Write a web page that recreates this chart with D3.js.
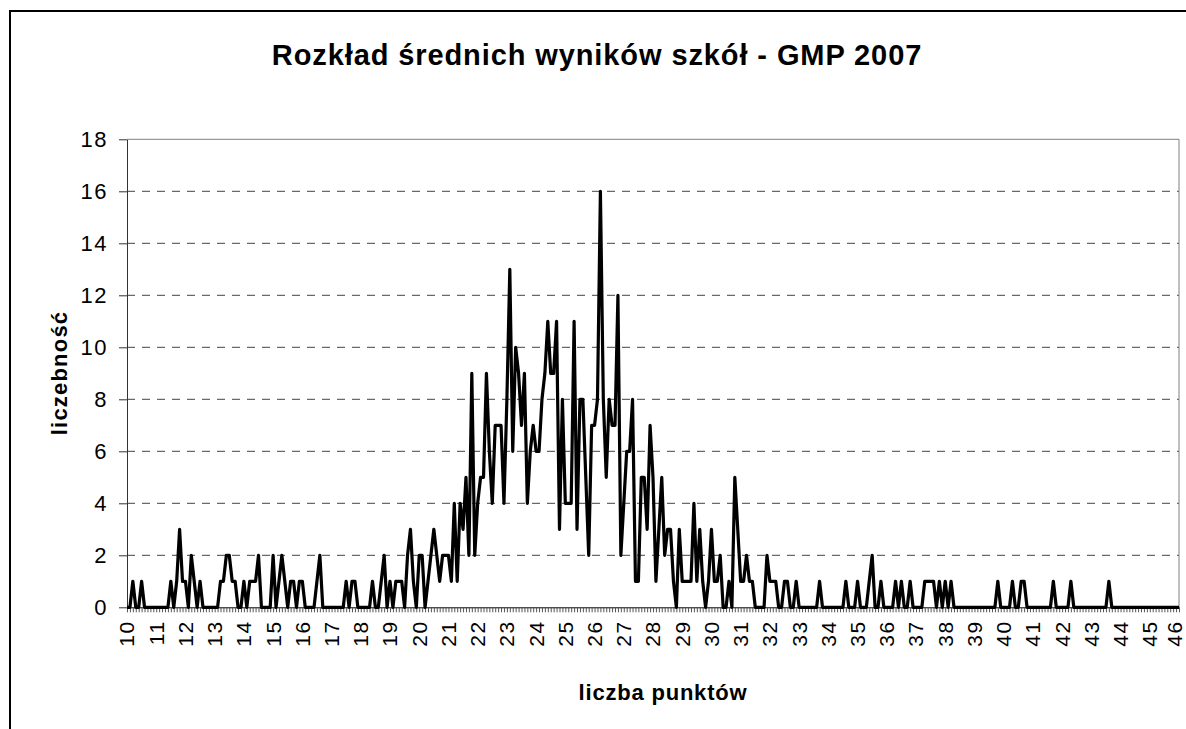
<!DOCTYPE html>
<html>
<head>
<meta charset="utf-8">
<script src="https://cdn.jsdelivr.net/npm/d3@7"></script>
<style>
  html, body { margin: 0; padding: 0; background: #fff; }
  svg { display: block; font-family: "Liberation Sans", Arial, sans-serif; }
</style>
</head>
<body>
<svg id="chart" width="1186" height="729"></svg>
<script>
"use strict";

var title = 'Rozkład średnich wyników szkół - GMP 2007';
var x_title = 'liczba punktów';
var y_title = 'liczebność';

// categories: school averages 10.0 .. 46.0, step 0.1
var categories = d3.range(0, 361).map(function (i) { return +(10 + i / 10).toFixed(1); });

// number of schools per category, one row per whole point (x.0 .. x.9)
var counts = [
  0, 0, 1, 0, 0, 1, 0, 0, 0, 0,      // 10
  0, 0, 0, 0, 0, 1, 0, 1, 3, 1,      // 11
  1, 0, 2, 1, 0, 1, 0, 0, 0, 0,      // 12
  0, 0, 1, 1, 2, 2, 1, 1, 0, 0,      // 13
  1, 0, 1, 1, 1, 2, 0, 0, 0, 0,      // 14
  2, 0, 1, 2, 1, 0, 1, 1, 0, 1,      // 15
  1, 0, 0, 0, 0, 1, 2, 0, 0, 0,      // 16
  0, 0, 0, 0, 0, 1, 0, 1, 1, 0,      // 17
  0, 0, 0, 0, 1, 0, 0, 1, 2, 0,      // 18
  1, 0, 1, 1, 1, 0, 2, 3, 1, 0,      // 19
  2, 2, 0, 1, 2, 3, 2, 1, 2, 2,      // 20
  2, 1, 4, 1, 4, 3, 5, 2, 9, 2,      // 21
  4, 5, 5, 9, 6, 4, 7, 7, 7, 4,      // 22
  8, 13, 6, 10, 9, 7, 9, 4, 6, 7,    // 23
  6, 6, 8, 9, 11, 9, 9, 11, 3, 8,    // 24
  4, 4, 4, 11, 3, 8, 8, 5, 2, 7,     // 25
  7, 8, 16, 8, 5, 8, 7, 7, 12, 2,    // 26
  4, 6, 6, 8, 1, 1, 5, 5, 3, 7,      // 27
  5, 1, 3, 5, 2, 3, 3, 1, 0, 3,      // 28
  1, 1, 1, 1, 4, 1, 3, 1, 0, 1,      // 29
  3, 1, 1, 2, 0, 0, 1, 0, 5, 3,      // 30
  1, 1, 2, 1, 1, 0, 0, 0, 0, 2,      // 31
  1, 1, 1, 0, 0, 1, 1, 0, 0, 1,      // 32
  0, 0, 0, 0, 0, 0, 0, 1, 0, 0,      // 33
  0, 0, 0, 0, 0, 0, 1, 0, 0, 0,      // 34
  1, 0, 0, 0, 1, 2, 0, 0, 1, 0,      // 35
  0, 0, 0, 1, 0, 1, 0, 0, 1, 0,      // 36
  0, 0, 0, 1, 1, 1, 1, 0, 1, 0,      // 37
  1, 0, 1, 0, 0, 0, 0, 0, 0, 0,      // 38
  0, 0, 0, 0, 0, 0, 0, 0, 1, 0,      // 39
  0, 0, 0, 1, 0, 0, 1, 1, 0, 0,      // 40
  0, 0, 0, 0, 0, 0, 0, 1, 0, 0,      // 41
  0, 0, 0, 1, 0, 0, 0, 0, 0, 0,      // 42
  0, 0, 0, 0, 0, 0, 1, 0, 0, 0,      // 43
  0, 0, 0, 0, 0, 0, 0, 0, 0, 0,      // 44
  0, 0, 0, 0, 0, 0, 0, 0, 0, 0,      // 45
  0                                  // 46
];

var y_ticks = [0, 2, 4, 6, 8, 10, 12, 14, 16, 18];
var x_labels = [10, 11, 12, 13, 14, 15, 16, 17, 18, 19, 20, 21, 22, 23, 24, 25, 26, 27,
  28, 29, 30, 31, 32, 33, 34, 35, 36, 37, 38, 39, 40, 41, 42, 43, 44, 45, 46];

function draw_chart() {
  var svg = d3.select('#chart');
  var data = categories.map(function (c, i) { return { cat: c, n: counts[i] }; });

  var left = 127, right = 1179, top = 139.3, bottom = 607.3;

  // outer chart frame (runs off the picture on the right and bottom)
  svg.append('rect')
    .attr('x', 10).attr('y', 11)
    .attr('width', 1300).attr('height', 900)
    .attr('fill', 'none')
    .attr('stroke', '#000')
    .attr('stroke-width', 2);

  var xscale = d3.scalePoint().domain(categories).range([left, right]);
  var yscale = d3.scaleLinear().domain([0, 18]).range([bottom, top]);

  // dashed grid lines
  svg.append('g')
    .selectAll('line')
    .data(y_ticks.filter(function (v) { return v > 0 && v < 18; }))
    .enter().append('line')
    .attr('x1', left).attr('x2', right)
    .attr('y1', function (d) { return yscale(d); })
    .attr('y2', function (d) { return yscale(d); })
    .attr('stroke', '#444')
    .attr('stroke-width', 1)
    .attr('stroke-dasharray', '8,7');

  // plot area border top/right
  svg.append('path')
    .attr('d', 'M' + left + ',' + yscale(18) + 'H' + right + 'V' + bottom)
    .attr('fill', 'none')
    .attr('stroke', '#808080')
    .attr('stroke-width', 1);

  // y axis
  var yaxis = d3.axisLeft(yscale)
    .tickValues(y_ticks)
    .tickSize(8)
    .tickPadding(11)
    .tickSizeOuter(0);
  var yg = svg.append('g')
    .attr('transform', 'translate(' + left + ',0)')
    .call(yaxis);
  yg.select('.domain').attr('stroke', '#333');
  yg.selectAll('.tick line').attr('stroke', '#333');
  yg.selectAll('text')
    .attr('font-size', 22)
    .attr('font-family', '"Liberation Sans", Arial, sans-serif')
    .attr('letter-spacing', 1.5)
    .attr('fill', '#000');

  // x axis: tick mark at every category, label at every whole point
  var xaxis = d3.axisBottom(xscale)
    .tickValues(categories)
    .tickSize(5)
    .tickSizeOuter(0)
    .tickFormat(function (d) { return x_labels.indexOf(d) >= 0 ? d : ''; });
  var xg = svg.append('g')
    .attr('transform', 'translate(0,' + bottom + ')')
    .call(xaxis);
  xg.select('.domain').attr('stroke', '#000');
  xg.selectAll('.tick line').attr('stroke', '#555');
  xg.selectAll('text')
    .attr('font-size', 21)
    .attr('font-family', '"Liberation Sans", Arial, sans-serif')
    .attr('letter-spacing', 1.6)
    .attr('fill', '#000')
    .attr('transform', 'rotate(-90)')
    .attr('x', -13)
    .attr('y', 0)
    .attr('dy', function (d) { return d === 46 ? '0.12em' : '0.33em'; })
    .style('text-anchor', 'end');

  // data line
  var line = d3.line()
    .x(function (d) { return xscale(d.cat); })
    .y(function (d) { return yscale(d.n); });
  svg.append('path')
    .datum(data)
    .attr('d', line)
    .attr('fill', 'none')
    .attr('stroke', '#000')
    .attr('stroke-width', 3.2)
    .attr('stroke-linejoin', 'round');

  // titles
  svg.append('text')
    .attr('x', 597).attr('y', 65)
    .attr('text-anchor', 'middle')
    .attr('font-size', 29)
    .attr('font-weight', 'bold')
    .attr('letter-spacing', 0.9)
    .text(title);

  svg.append('text')
    .attr('x', 663).attr('y', 700)
    .attr('text-anchor', 'middle')
    .attr('font-size', 22)
    .attr('font-weight', 'bold')
    .attr('letter-spacing', 0.8)
    .text(x_title);

  svg.append('text')
    .attr('transform', 'translate(67,373) rotate(-90)')
    .attr('text-anchor', 'middle')
    .attr('font-size', 22)
    .attr('font-weight', 'bold')
    .attr('letter-spacing', 1.2)
    .text(y_title);
}

draw_chart();
</script>
</body>
</html>
